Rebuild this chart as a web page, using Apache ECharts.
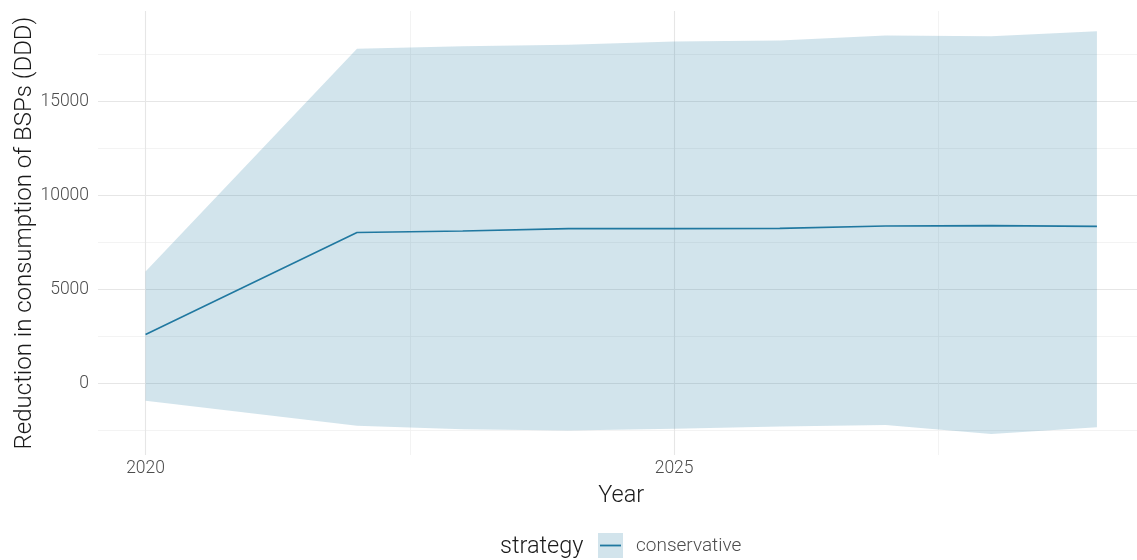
<!DOCTYPE html>
<html>
<head>
<meta charset="utf-8">
<script src="https://cdn.jsdelivr.net/npm/echarts@6/dist/echarts.min.js"></script>
<style>html,body{margin:0;padding:0;background:#fff;}#chart{width:1137px;height:560px;}</style>
</head>
<body>
<div id="chart"></div>
<script>
const years = [2020, 2022, 2023, 2024, 2025, 2026, 2027, 2028, 2029];
const meanValues = [2606, 8030, 8110, 8230, 8230, 8245, 8370, 8390, 8350];
const upperValues = [5960, 17790, 17930, 18000, 18175, 18230, 18495, 18460, 18720];
const lowerValues = [-920, -2250, -2425, -2500, -2410, -2290, -2200, -2680, -2320];
const yMajorTicks = [0, 5000, 10000, 15000];
const yMinorTicks = [-2500, 2500, 7500, 12500, 17500];
const xMajorTicks = [2020, 2025];
const xMinorTicks = [2022.5, 2027.5];
const seriesName = 'conservative';
const legendTitle = 'strategy';

const FONT = 'Roboto';
const lineColor = '#2078a0';
const bandColor = 'rgba(32,120,160,0.2)';

const major = {color: '#e6e6e6', width: 1.1, type: 'solid'};
const minor = {color: '#f0f0f0', width: 0.8, type: 'solid'};
const gridLines = [].concat(
  yMajorTicks.map(v => ({yAxis: v, lineStyle: major})),
  yMinorTicks.map(v => ({yAxis: v, lineStyle: minor})),
  xMajorTicks.map(v => ({xAxis: v, lineStyle: major})),
  xMinorTicks.map(v => ({xAxis: v, lineStyle: minor}))
);

const bandData = years.map((y, i) => [y, lowerValues[i], upperValues[i]]);

const chart = echarts.init(document.getElementById('chart'), null, {renderer: 'canvas'});
chart.setOption({
  animation: false,
  backgroundColor: '#ffffff',
  grid: {left: 98, right: -7.5, top: 11, bottom: 105, containLabel: false, outerBoundsMode: 'none'},
  xAxis: {
    type: 'value', min: 2019.55, max: 2029.45,
    axisLine: {show: false}, axisTick: {show: false}, splitLine: {show: false},
    axisLabel: {customValues: xMajorTicks, formatter: v => String(v), color: '#4d4d4d', fontFamily: FONT, fontWeight: 300, fontSize: 17.5, margin: 5},
    name: 'Year', nameLocation: 'middle', nameGap: 29, nameMoveOverlap: false,
    nameTextStyle: {color: '#1a1a1a', fontFamily: FONT, fontWeight: 300, fontSize: 23.5}
  },
  yAxis: {
    type: 'value', min: -3800, max: 19800,
    axisLine: {show: false}, axisTick: {show: false}, splitLine: {show: false},
    axisLabel: {customValues: yMajorTicks, formatter: v => String(v), color: '#4d4d4d', fontFamily: FONT, fontWeight: 300, fontSize: 17.5, margin: 9},
    name: 'Reduction in consumption of BSPs (DDD)', nameLocation: 'middle', nameGap: 61, nameMoveOverlap: false,
    nameTextStyle: {color: '#1a1a1a', fontFamily: FONT, fontWeight: 300, fontSize: 24}
  },
  series: [
    {
      type: 'custom', name: 'band', data: bandData, silent: true, z: 2,
      encode: {x: 0, y: [1, 2]},
      renderItem: function (params, api) {
        if (params.dataIndex !== 0) return null;
        const up = bandData.map(d => api.coord([d[0], d[2]]));
        const lo = bandData.map(d => api.coord([d[0], d[1]])).reverse();
        return {type: 'polygon', shape: {points: up.concat(lo)}, style: {fill: bandColor}};
      },
      markLine: {silent: true, symbol: 'none', z: 1, label: {show: false}, data: gridLines, animation: false}
    },
    {
      type: 'line', name: seriesName, data: years.map((y, i) => [y, meanValues[i]]),
      symbol: 'none', lineStyle: {color: lineColor, width: 1.6}, z: 3
    }
  ],
  graphic: [
    {type: 'text', left: 500, top: 535, style: {text: legendTitle, fill: '#1a1a1a', font: '300 23.5px Roboto'}},
    {type: 'rect', shape: {x: 598, y: 533, width: 25, height: 25}, style: {fill: bandColor}},
    {type: 'line', shape: {x1: 600, y1: 545.5, x2: 621, y2: 545.5}, style: {stroke: lineColor, lineWidth: 1.8}},
    {type: 'text', left: 636, top: 537, style: {text: seriesName, fill: '#4d4d4d', font: '300 19px Roboto'}}
  ]
});
</script>
</body>
</html>
